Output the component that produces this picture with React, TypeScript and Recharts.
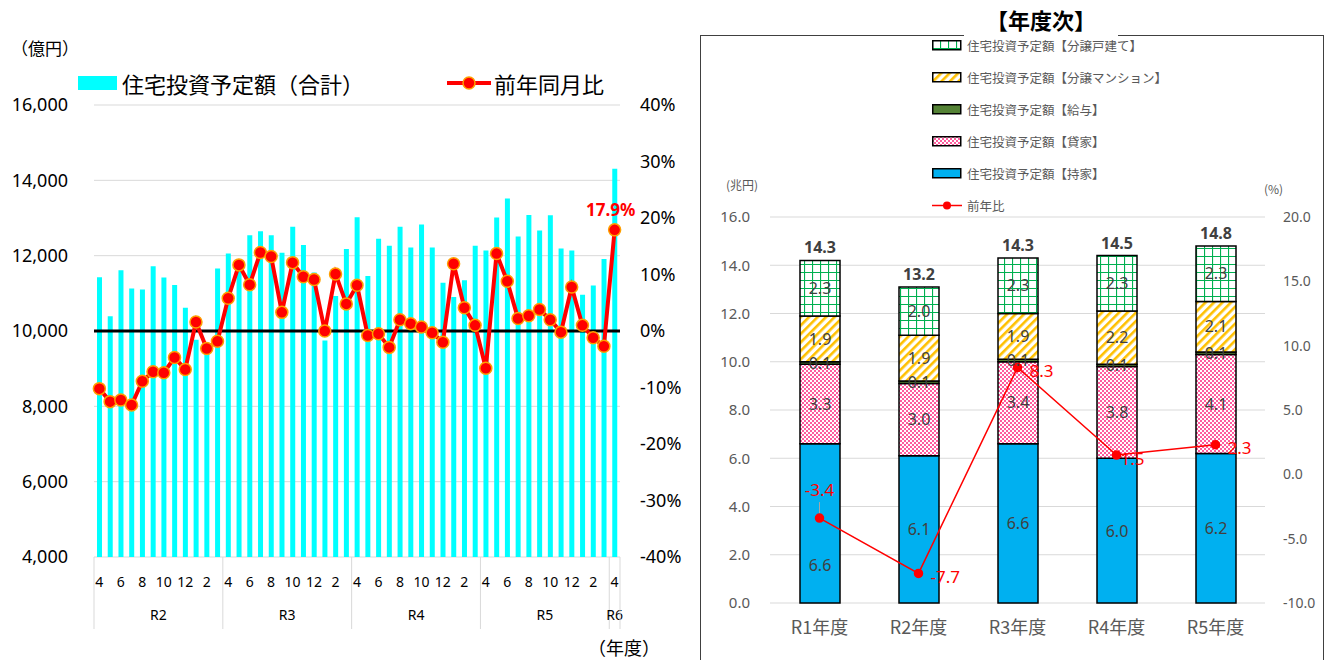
import React from 'react'
import {
  ComposedChart,
  Bar,
  Line,
  XAxis,
  YAxis,
  CartesianGrid,
  ReferenceLine,
  LabelList,
} from 'recharts'

// ---- monthly (left) ----
const fiscalYears = ['R2', 'R3', 'R4', 'R5', 'R6']
const monthOrder = [4, 5, 6, 7, 8, 9, 10, 11, 12, 1, 2, 3]

// 住宅投資予定額（合計）, 億円
const monthlyTotal = [
  11430, 10390, 11610, 11130, 11100, 11720, 11420, 11220, 10620, 9770, 9550, 11660,
  12060, 11750, 12540, 12650, 12540, 12080, 12770, 12280, 11550, 9750, 10930, 12180,
  13020, 11460, 12450, 12260, 12770, 12220, 12830, 12220, 11280, 10900, 11350, 12260,
  12140, 13010, 13520, 12510, 13080, 12670, 13070, 12190, 12140, 10960, 11210, 11910,
  14310,
]

// 前年同月比, %
const monthlyYoY = [
  -10.2, -12.5, -12.2, -13.1, -8.9, -7.2, -7.4, -4.7, -6.8, 1.6, -3.1, -1.8,
  5.8, 11.7, 8.2, 13.9, 13.2, 3.3, 12.1, 9.6, 9.1, 0.0, 10.1, 4.8,
  8.1, -0.8, -0.5, -2.9, 2.0, 1.3, 0.7, -0.3, -2.0, 11.9, 4.1, 1.0,
  -6.6, 13.7, 8.8, 2.2, 2.7, 3.8, 2.0, -0.2, 7.8, 1.0, -1.2, -2.7,
  17.9,
]

const amountTicks = [4000, 6000, 8000, 10000, 12000, 14000, 16000]
const pctTicks = [-40, -30, -20, -10, 0, 10, 20, 30, 40]

// ---- fiscal year (right) ----
const annualLabels = ['R1年度', 'R2年度', 'R3年度', 'R4年度', 'R5年度']
const ownerOccupied = [6.6, 6.1, 6.6, 6.0, 6.2]
const rental = [3.3, 3.0, 3.4, 3.8, 4.1]
const employee = [0.1, 0.1, 0.1, 0.1, 0.1]
const condo = [1.9, 1.9, 1.9, 2.2, 2.1]
const detached = [2.3, 2.0, 2.3, 2.3, 2.3]
const annualTotal = [14.3, 13.2, 14.3, 14.5, 14.8]
const annualYoY = [-3.4, -7.7, 8.3, 1.5, 2.3]

const trillionTicks = [0, 2, 4, 6, 8, 10, 12, 14, 16]
const annualPctTicks = [-10, -5, 0, 5, 10, 15, 20]

const monthlyData = monthlyTotal.map((v, i) => ({
  month: monthOrder[i % 12],
  year: fiscalYears[Math.floor(i / 12)],
  total: v,
  yoy: monthlyYoY[i],
}))

const annualData = annualLabels.map((label, i) => ({
  label,
  own: ownerOccupied[i],
  rent: rental[i],
  emp: employee[i],
  condo: condo[i],
  house: detached[i],
  yoy: annualYoY[i],
}))

const FONT = '"Noto Sans", "Noto Sans CJK JP", sans-serif'
const JP = '"Noto Sans CJK JP", "Noto Sans", sans-serif'
const GRAY = '#595959'
const LEFT_PLOT_W = 526

function MonthTick(props: any) {
  const { x, y, payload } = props
  const i = props.index ?? payload.index
  const n = monthlyData.length
  const step = LEFT_PLOT_W / n
  const d = monthlyData[i]
  const start = i % 12 === 0
  const groupLen = Math.min(12, n - i)
  return (
    <g>
      {i % 2 === 0 && (
        <text x={x} y={y + 30} textAnchor="middle" fontSize={14} fill="#000" fontFamily={FONT}>
          {d.month}
        </text>
      )}
      {start && (
        <>
          <line x1={x - step / 2} x2={x - step / 2} y1={y} y2={y + 72} stroke="#D9D9D9" />
          <text
            x={x - step / 2 + (groupLen * step) / 2}
            y={y + 63}
            textAnchor="middle"
            fontSize={14}
            fill="#000"
            fontFamily={FONT}
          >
            {d.year}
          </text>
        </>
      )}
      {i === n - 1 && (
        <line x1={x + step / 2} x2={x + step / 2} y1={y} y2={y + 72} stroke="#D9D9D9" />
      )}
    </g>
  )
}

function LastLabel(props: any) {
  const { x, y, index, value } = props
  if (index !== monthlyData.length - 1) return null
  return (
    <text x={x - 4} y={y - 14} textAnchor="middle" fontSize={17} fontWeight="bold" fill="#FF0000" fontFamily={FONT}>
      {value.toFixed(1)}%
    </text>
  )
}

function TotalLabel(props: any) {
  const { x, y, width, index } = props
  return (
    <text x={x + width / 2} y={y - 7} textAnchor="middle" fontSize={16} fontWeight="bold" fill="#404040" fontFamily={FONT}>
      {annualTotal[index].toFixed(1)}
    </text>
  )
}

// 持家 labels: the first one sits lower so it clears the 前年比 label
function OwnLabel(props: any) {
  const { x, y, width, height, index, value } = props
  return (
    <text
      x={x + width / 2}
      y={y + height / 2 + (index === 0 ? 42 : 0)}
      textAnchor="middle"
      dominantBaseline="central"
      fontSize={16}
      fill="#404040"
      fontFamily={FONT}
    >
      {Number(value).toFixed(1)}
    </text>
  )
}

function YoYLabel(props: any) {
  const { x, y, index, value } = props
  if (index === 0) {
    return (
      <g>
        <line x1={x} x2={x} y1={y - 16} y2={y - 5} stroke="#A6A6A6" />
        <text x={x} y={y - 22} textAnchor="middle" fontSize={17} fill="#FF0000" fontFamily={FONT}>
          {value.toFixed(1)}
        </text>
      </g>
    )
  }
  return (
    <text x={x + (index === 3 ? 4 : 12)} y={y + 3} dominantBaseline="central" fontSize={17} fill="#FF0000" fontFamily={FONT}>
      {value.toFixed(1)}
    </text>
  )
}

const segLabel = { position: 'center' as const, fill: '#404040', fontSize: 16, fontFamily: FONT }
const fmt1 = (v: any) => Number(v).toFixed(1)

const legendItems = [
  { name: '住宅投資予定額【分譲戸建て】', fill: 'url(#gridGreen)' },
  { name: '住宅投資予定額【分譲マンション】', fill: 'url(#stripeGold)' },
  { name: '住宅投資予定額【給与】', fill: '#548235' },
  { name: '住宅投資予定額【貸家】', fill: 'url(#checkPink)' },
  { name: '住宅投資予定額【持家】', fill: '#00B0F0' },
]

export default function App() {
  return (
    <div style={{ position: 'fixed', left: 0, top: 0, width: 1330, height: 660, background: '#fff', overflow: 'hidden', fontFamily: JP }}>
      <svg width={0} height={0} style={{ position: 'absolute' }}>
        <defs>
          <pattern id="gridGreen" patternUnits="userSpaceOnUse" width={8} height={8}>
            <rect width={8} height={8} fill="#fff" />
            <path d="M0 0.5 H8 M0.5 0 V8" stroke="#00B050" strokeWidth={1.2} />
          </pattern>
          <pattern id="stripeGold" patternUnits="userSpaceOnUse" width={6} height={6} patternTransform="rotate(45)">
            <rect width={6} height={6} fill="#fff" />
            <rect width={2.6} height={6} fill="#FFC000" />
          </pattern>
          <pattern id="checkPink" patternUnits="userSpaceOnUse" width={4} height={4}>
            <rect width={4} height={4} fill="#fff" />
            <rect width={2} height={2} fill="#FF5C9D" />
            <rect x={2} y={2} width={2} height={2} fill="#FF5C9D" />
          </pattern>
        </defs>
      </svg>

      {/* ---------- left: monthly ---------- */}
      <div style={{ position: 'absolute', left: 11, top: 35, fontSize: 17 }}>（億円）</div>
      <div style={{ position: 'absolute', left: 78, top: 67, display: 'flex', alignItems: 'center', fontSize: 22 }}>
        <div style={{ width: 39, height: 14, background: '#00FFFF', marginRight: 5 }} />
        <span>住宅投資予定額（合計）</span>
        <svg width={46} height={20} style={{ marginLeft: 82 }}>
          <line x1={1} x2={45} y1={10} y2={10} stroke="#FF0000" strokeWidth={4} />
          <circle cx={23} cy={10} r={6} fill="#FF0000" stroke="#FFA000" strokeWidth={1.5} />
        </svg>
        <span style={{ marginLeft: 2 }}>前年同月比</span>
      </div>
      <div style={{ position: 'absolute', left: 588, top: 636, fontSize: 18, lineHeight: '22px' }}>（年度）</div>

      <div style={{ position: 'absolute', left: 0, top: 0 }}>
        <ComposedChart
          width={700}
          height={660}
          data={monthlyData}
          margin={{ top: 105, right: 20, left: 14, bottom: 23 }}
          barCategoryGap="50%"
        >
          <CartesianGrid vertical={false} stroke="#D9D9D9" yAxisId="amt" />
          <XAxis
            dataKey="month"
            interval={0}
            height={80}
            axisLine={false}
            tickLine={false}
            tickSize={0}
            tickMargin={0}
            tick={<MonthTick />}
          />
          <YAxis
            yAxisId="amt"
            width={80}
            domain={[4000, 16000]}
            ticks={amountTicks}
            axisLine={false}
            tickLine={false}
            tickSize={0}
            tickMargin={26}
            tickFormatter={(v) => v.toLocaleString('en-US')}
            tick={{ fontSize: 18, fill: '#000', fontFamily: FONT }}
          />
          <YAxis
            yAxisId="pct"
            orientation="right"
            width={60}
            domain={[-40, 40]}
            ticks={pctTicks}
            axisLine={false}
            tickLine={false}
            tickSize={0}
            tickMargin={20}
            tickFormatter={(v) => `${v}%`}
            tick={{ fontSize: 18, fill: '#000', fontFamily: FONT }}
          />
          <Bar yAxisId="amt" dataKey="total" fill="#00FFFF" barSize={5} isAnimationActive={false} />
          <ReferenceLine yAxisId="amt" y={10000} stroke="#000" strokeWidth={3} />
          <Line
            yAxisId="pct"
            dataKey="yoy"
            stroke="#FF0000"
            strokeWidth={4}
            dot={{ r: 6, fill: '#FF0000', stroke: '#FFA000', strokeWidth: 1.5 }}
            activeDot={false}
            isAnimationActive={false}
          >
            <LabelList dataKey="yoy" content={<LastLabel />} />
          </Line>
        </ComposedChart>
      </div>

      {/* ---------- right: fiscal year ---------- */}
      <div style={{ position: 'absolute', left: 700, top: 35, width: 622, height: 640, border: '1.5px solid #404040' }} />
      <div
        style={{
          position: 'absolute',
          left: 964,
          top: 4,
          width: 154,
          height: 38,
          background: '#fff',
          textAlign: 'center',
          fontSize: 22,
          fontWeight: 'bold',
          lineHeight: '30px',
        }}
      >
        【年度次】
      </div>
      <div style={{ position: 'absolute', left: 932, top: 29, fontSize: 12.5, color: GRAY }}>
        {legendItems.map((it) => (
          <div key={it.name} style={{ display: 'flex', alignItems: 'center', height: 32 }}>
            <svg width={30} height={11} style={{ marginRight: 5 }}>
              <rect x={0.75} y={0.75} width={28} height={9} fill={it.fill} stroke="#000" strokeWidth={1.5} />
            </svg>
            <span>{it.name}</span>
          </div>
        ))}
        <div style={{ display: 'flex', alignItems: 'center', height: 32 }}>
          <svg width={30} height={11} style={{ marginRight: 5 }}>
            <line x1={0} x2={30} y1={5.5} y2={5.5} stroke="#FF0000" strokeWidth={1.5} />
            <circle cx={15} cy={5.5} r={4} fill="#FF0000" />
          </svg>
          <span>前年比</span>
        </div>
      </div>
      <div style={{ position: 'absolute', left: 726, top: 176, fontSize: 12, color: GRAY }}>(兆円)</div>
      <div style={{ position: 'absolute', left: 1264, top: 180, fontSize: 12, color: GRAY }}>(%)</div>

      <div style={{ position: 'absolute', left: 700, top: 0 }}>
        <ComposedChart
          width={630}
          height={660}
          data={annualData}
          margin={{ top: 217, right: 10, left: 0, bottom: 17 }}
        >
          <CartesianGrid vertical={false} stroke="#D9D9D9" yAxisId="tr" />
          <XAxis
            dataKey="label"
            height={40}
            axisLine={false}
            tickLine={false}
            tickSize={0}
            tickMargin={18}
            tick={{ fontSize: 18, fill: GRAY, fontFamily: JP }}
          />
          <YAxis
            yAxisId="tr"
            width={70}
            domain={[0, 16]}
            ticks={trillionTicks}
            axisLine={false}
            tickLine={false}
            tickSize={0}
            tickMargin={20}
            tickFormatter={fmt1}
            tick={{ fontSize: 15, fill: GRAY, fontFamily: FONT }}
          />
          <YAxis
            yAxisId="pct"
            orientation="right"
            width={55}
            domain={[-10, 20]}
            ticks={annualPctTicks}
            axisLine={false}
            tickLine={false}
            tickSize={0}
            tickMargin={18}
            tickFormatter={fmt1}
            tick={{ fontSize: 14, fill: GRAY, fontFamily: FONT }}
          />
          <Bar yAxisId="tr" dataKey="own" stackId="a" fill="#00B0F0" stroke="#000" strokeWidth={1.5} barSize={40} isAnimationActive={false}>
            <LabelList dataKey="own" content={<OwnLabel />} />
          </Bar>
          <Bar yAxisId="tr" dataKey="rent" stackId="a" fill="url(#checkPink)" stroke="#000" strokeWidth={1.5} barSize={40} isAnimationActive={false}>
            <LabelList dataKey="rent" {...segLabel} formatter={fmt1} />
          </Bar>
          <Bar yAxisId="tr" dataKey="emp" stackId="a" fill="#548235" stroke="#000" strokeWidth={1.5} barSize={40} isAnimationActive={false}>
            <LabelList dataKey="emp" {...segLabel} formatter={fmt1} />
          </Bar>
          <Bar yAxisId="tr" dataKey="condo" stackId="a" fill="url(#stripeGold)" stroke="#000" strokeWidth={1.5} barSize={40} isAnimationActive={false}>
            <LabelList dataKey="condo" {...segLabel} formatter={fmt1} />
          </Bar>
          <Bar yAxisId="tr" dataKey="house" stackId="a" fill="url(#gridGreen)" stroke="#000" strokeWidth={1.5} barSize={40} isAnimationActive={false}>
            <LabelList dataKey="house" {...segLabel} formatter={fmt1} />
            <LabelList dataKey="house" content={<TotalLabel />} />
          </Bar>
          <Line
            yAxisId="pct"
            dataKey="yoy"
            stroke="#FF0000"
            strokeWidth={1.5}
            dot={{ r: 4, fill: '#FF0000', stroke: '#FF0000' }}
            activeDot={false}
            isAnimationActive={false}
          >
            <LabelList dataKey="yoy" content={<YoYLabel />} />
          </Line>
        </ComposedChart>
      </div>
    </div>
  )
}
